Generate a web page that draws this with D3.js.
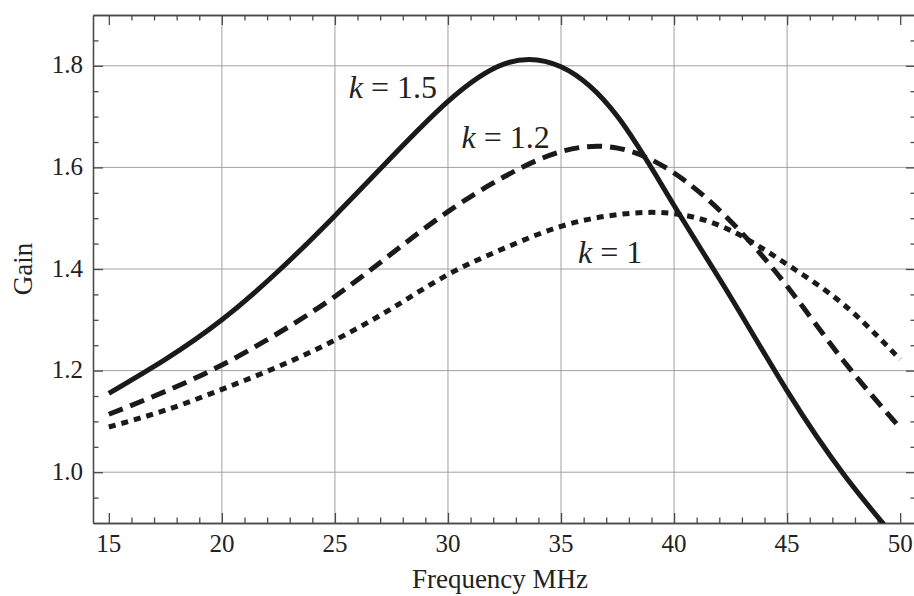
<!DOCTYPE html>
<html lang="en">
<head>
  <meta charset="UTF-8">
  <title>Gain vs Frequency</title>
  <script src="https://d3js.org/d3.v7.min.js"></script>
  <style>
    body { margin: 0; background: #fff; }
  </style>
</head>
<body>
<script>
  // data
  const freq = [15, 17.5, 20, 22.5, 25, 27.5, 30, 32.5, 35, 37.5, 40, 42.5, 45, 47.5, 50];
  const gainK15 = [1.155, 1.222, 1.300, 1.396, 1.505, 1.620, 1.730, 1.804, 1.798, 1.700, 1.525, 1.345, 1.160, 0.996, 0.859];
  const gainK12 = [1.114, 1.159, 1.211, 1.274, 1.346, 1.430, 1.513, 1.582, 1.631, 1.638, 1.589, 1.494, 1.366, 1.219, 1.087];
  const gainK10 = [1.089, 1.122, 1.163, 1.208, 1.260, 1.322, 1.389, 1.441, 1.484, 1.507, 1.509, 1.476, 1.409, 1.330, 1.222];
  const xTicks = [15, 20, 25, 30, 35, 40, 45, 50];
  const yTicks = [1.0, 1.2, 1.4, 1.6, 1.8];
  const curveLabels = [
    {k: "1.5", x: 25.61, y: 1.737},
    {k: "1.2", x: 30.6, y: 1.638},
    {k: "1", x: 35.75, y: 1.4116}
  ];

  const width = 914, height = 596;
  const pLeft = 93, pTop = 15, pRight = 916, pBottom = 523;
  const serif = "'Liberation Serif', 'Times New Roman', Times, 'DejaVu Serif', serif";

  const svg = d3.select("body").append("svg")
          .attr("width", width)
          .attr("height", height);

  const x = d3.scaleLinear().domain([14.3, 50.7]).range([pLeft, pRight]);
  const y = d3.scaleLinear().domain([0.9, 1.9]).range([pBottom, pTop]);

  // grid lines (not at the frame ends 15 / 50)
  svg.append("g")
          .selectAll("line")
          .data(xTicks.filter(d => d > 15 && d < 50))
          .enter().append("line")
          .attr("x1", d => x(d)).attr("x2", d => x(d))
          .attr("y1", pTop).attr("y2", pBottom)
          .attr("stroke", "#a0a0a0").attr("stroke-width", 1);
  svg.append("g")
          .selectAll("line")
          .data(yTicks)
          .enter().append("line")
          .attr("x1", pLeft).attr("x2", pRight)
          .attr("y1", d => y(d)).attr("y2", d => y(d))
          .attr("stroke", "#a0a0a0").attr("stroke-width", 1);

  // frame with inward ticks on all four sides
  const xMinor = d3.range(15, 50.5, 1).filter(d => d % 5 !== 0);
  const yMinor = d3.range(0.95, 1.9, 0.05).map(d => +d.toFixed(2)).filter(d => Math.round(d * 100) % 20 !== 0);
  const frameColor = "#4a4a4a";

  svg.append("g").attr("transform", `translate(0,${pBottom})`)
          .call(d3.axisBottom(x).tickValues(xTicks).tickSize(-10).tickSizeOuter(0).tickFormat(""));
  svg.append("g").attr("transform", `translate(0,${pBottom})`)
          .call(d3.axisBottom(x).tickValues(xMinor).tickSize(-5.5).tickSizeOuter(0).tickFormat(""));
  svg.append("g").attr("transform", `translate(0,${pTop})`)
          .call(d3.axisTop(x).tickValues(xTicks).tickSize(-10).tickSizeOuter(0).tickFormat(""));
  svg.append("g").attr("transform", `translate(0,${pTop})`)
          .call(d3.axisTop(x).tickValues(xMinor).tickSize(-5.5).tickSizeOuter(0).tickFormat(""));
  svg.append("g").attr("transform", `translate(${pLeft},0)`)
          .call(d3.axisLeft(y).tickValues(yTicks).tickSize(-10).tickSizeOuter(0).tickFormat(""));
  svg.append("g").attr("transform", `translate(${pLeft},0)`)
          .call(d3.axisLeft(y).tickValues(yMinor).tickSize(-5.5).tickSizeOuter(0).tickFormat(""));
  svg.append("g").attr("transform", `translate(${pRight},0)`)
          .call(d3.axisRight(y).tickValues(yTicks).tickSize(-10).tickSizeOuter(0).tickFormat(""));
  svg.append("g").attr("transform", `translate(${pRight},0)`)
          .call(d3.axisRight(y).tickValues(yMinor).tickSize(-5.5).tickSizeOuter(0).tickFormat(""));
  svg.selectAll(".domain").attr("stroke", frameColor).attr("stroke-width", 1.3);
  svg.selectAll(".tick line").attr("stroke", frameColor).attr("stroke-width", 1.3);

  // tick labels
  svg.append("g")
          .selectAll("text")
          .data(xTicks)
          .enter().append("text")
          .attr("x", d => x(d))
          .attr("y", 552)
          .attr("text-anchor", "middle")
          .attr("font-family", serif)
          .attr("font-size", 25)
          .attr("fill", "#222")
          .text(d => d);
  svg.append("g")
          .selectAll("text")
          .data(yTicks)
          .enter().append("text")
          .attr("x", 83)
          .attr("y", d => y(d))
          .attr("dy", "0.3em")
          .attr("text-anchor", "end")
          .attr("font-family", serif)
          .attr("font-size", 25)
          .attr("fill", "#222")
          .text(d => d.toFixed(1));

  // axis titles
  svg.append("text")
          .attr("x", 500).attr("y", 588)
          .attr("text-anchor", "middle")
          .attr("font-family", serif)
          .attr("font-size", 27)
          .attr("fill", "#222")
          .text("Frequency MHz");
  svg.append("text")
          .attr("transform", `translate(32,${(pTop + pBottom) / 2}) rotate(-90)`)
          .attr("text-anchor", "middle")
          .attr("font-family", serif)
          .attr("font-size", 27)
          .attr("fill", "#222")
          .text("Gain");

  // curves
  svg.append("clipPath").attr("id", "plotArea")
          .append("rect")
          .attr("x", pLeft).attr("y", pTop)
          .attr("width", pRight - pLeft).attr("height", pBottom - pTop);

  const line = d3.line()
          .x(d => x(d[0]))
          .y(d => y(d[1]))
          .curve(d3.curveNatural);

  const series = [
    {values: gainK15, dash: null},
    {values: gainK12, dash: "15,8"},
    {values: gainK10, dash: "7,6"}
  ];

  svg.append("g")
          .attr("clip-path", "url(#plotArea)")
          .selectAll("path")
          .data(series)
          .enter().append("path")
          .attr("d", s => line(freq.map((f, i) => [f, s.values[i]])))
          .attr("fill", "none")
          .attr("stroke", "#1a1a1a")
          .attr("stroke-width", 5)
          .attr("stroke-dasharray", s => s.dash);

  // k labels
  const lbl = svg.append("g")
          .selectAll("text")
          .data(curveLabels)
          .enter().append("text")
          .attr("x", d => x(d.x))
          .attr("y", d => y(d.y))
          .attr("font-family", serif)
          .attr("font-size", 32)
          .attr("fill", "#222");
  lbl.append("tspan").attr("font-style", "italic").text("k");
  lbl.append("tspan").text(d => " = " + d.k);
</script>
</body>
</html>
